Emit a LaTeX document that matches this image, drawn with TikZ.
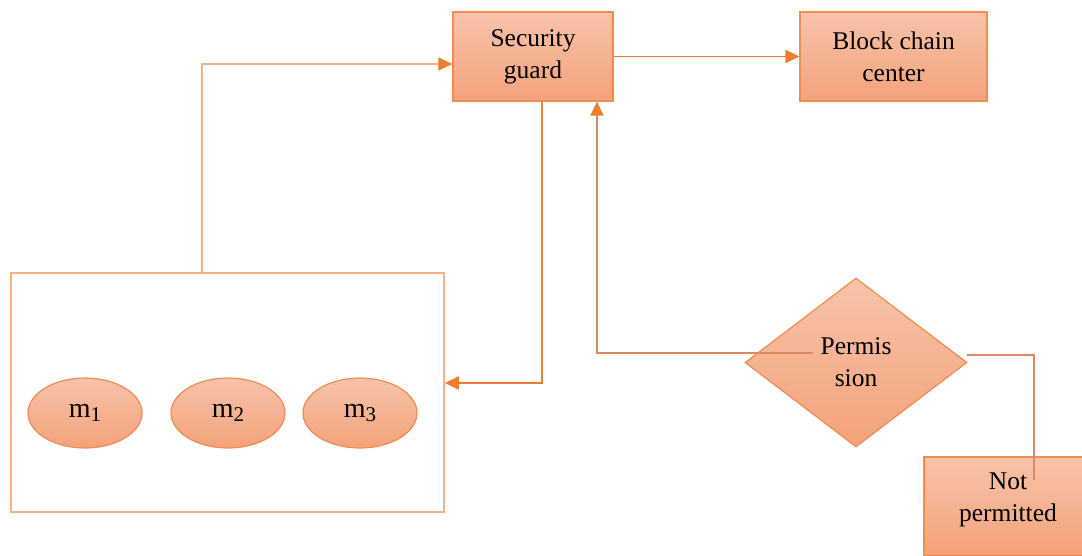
\documentclass[tikz,border=0pt]{standalone}
\usepackage{fontspec}
\setmainfont{Liberation Serif}
\usetikzlibrary{shapes.geometric,arrows.meta,calc}
\definecolor{fillTop}{HTML}{F7C3AA}
\definecolor{fillBot}{HTML}{F3A27A}
\definecolor{edge}{HTML}{EE8C52}
\definecolor{lineLight}{HTML}{F4B183}
\definecolor{lineDark}{HTML}{ED7D31}
\definecolor{lineBrown}{HTML}{DA8A5E}
\begin{document}
\begin{tikzpicture}[x=1pt,y=-1pt,
  shaded/.style={draw=edge, line width=1.2pt, top color=fillTop, bottom color=fillBot, align=center, inner sep=0pt, font=\fontsize{25.5}{32}\selectfont},
  rbox/.style={shaded, rectangle, minimum height=89pt},
  mnode/.style={shaded, ellipse, minimum width=114pt, minimum height=70pt, font=\fontsize{28}{30}\selectfont},
  tip/.style={-{Triangle[length=14pt,width=13pt,fill=lineDark,color=lineDark]}},
  conn/.style={line width=1.8pt, draw=lineLight},
  connD/.style={line width=1.8pt, draw=lineDark},
  connB/.style={line width=1.5pt, draw=lineBrown}
]
\useasboundingbox (0,0) rectangle (1082,556);
\clip (0,0) rectangle (1082,556);

% group box
\node[draw=lineLight, line width=1.6pt, minimum width=433pt, minimum height=239pt, inner sep=0pt] (grp) at (227.5,392.5) {};

% nodes
\node[rbox, minimum width=160pt] (sg) at (533,56.5) {Security\\guard};
\node[rbox, minimum width=187pt] (bc) at (893.5,56.5) {Block chain\\center};
\node[mnode] (m1) at (85,413) {m\raisebox{-0.3ex}{\fontsize{21}{24}\selectfont 1}};
\node[mnode] (m2) at (228,413) {m\raisebox{-0.3ex}{\fontsize{21}{24}\selectfont 2}};
\node[mnode] (m3) at (360,413) {m\raisebox{-0.3ex}{\fontsize{21}{24}\selectfont 3}};
\node[shaded, diamond, minimum width=222pt, minimum height=169pt, aspect=1.31] (perm) at (856,362.5) {Permis\\sion};
\node[rbox, minimum width=168pt, minimum height=99pt] (np) at (1008,506.5) {};
\node[align=center, inner sep=0pt, font=\fontsize{25.5}{32}\selectfont] (nptext) at (1008,500) {Not\\permitted};

% connectors
\draw[connD, tip] (sg.east) -- (bc.west);

\coordinate (up1) at (202,64);
\draw[conn, tip] (grp.north -| up1) |- (sg.west |- up1);

\coordinate (dn) at (542,383);
\draw[connD, tip] (sg.south -| dn) |- (grp.east |- dn);

\coordinate (pin) at (813,353);
\coordinate (lft) at (597,353);
\draw[connB, tip] (pin) -- (lft) -- (sg.south -| lft);

\coordinate (r0) at (967,355);
\coordinate (r1) at (1034,355);
\coordinate (npin) at (1034,480);
\draw[connB] (r0) -- (r1) -- (npin);
\end{tikzpicture}
\end{document}
